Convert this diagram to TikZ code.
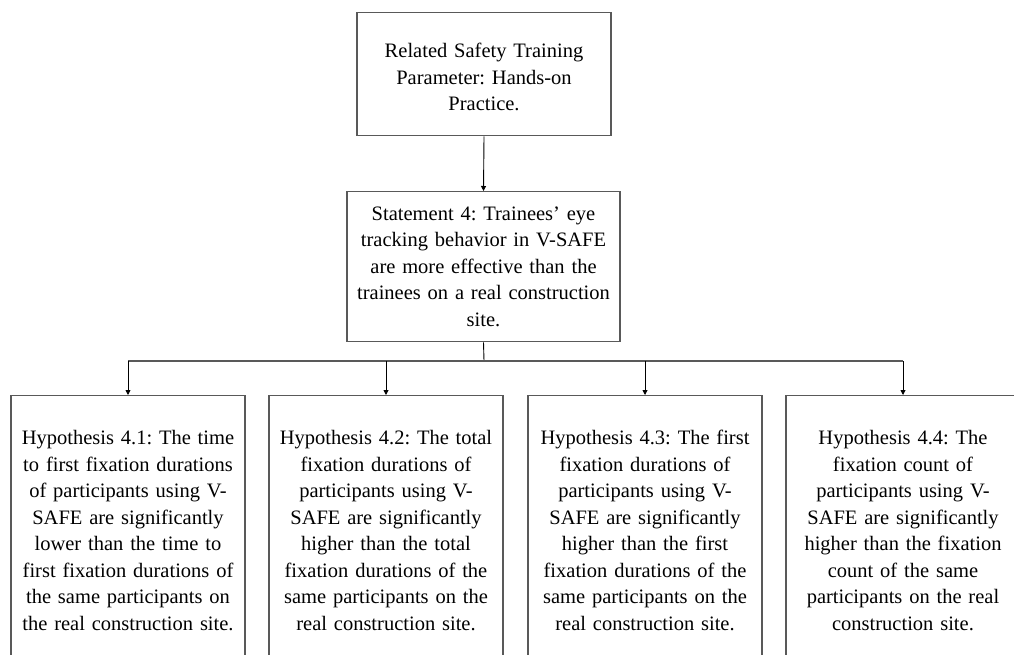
\documentclass[tikz,border=0pt]{standalone}
\usepackage{fontspec}
\setmainfont{Liberation Serif}
\usetikzlibrary{arrows.meta}
\frenchspacing
\begin{document}
\begin{tikzpicture}[x=1pt,y=-1pt,
  box/.style={draw=black!65, line width=1.3pt, rectangle, align=center, inner sep=0pt,
    font=\fontsize{20.5}{26.5}\selectfont},
  hyp/.style={box, minimum width=234pt, minimum height=270pt, text width=230pt, anchor=north},
  conn/.style={draw=black, line width=0.9pt},
  arr/.style={conn, -{Triangle[length=5pt,width=5pt]}}]
\useasboundingbox (0,0) rectangle (1014,655);
\clip (0,0) rectangle (1014,655);
\node[box, minimum width=254pt, minimum height=123pt, text width=250pt, anchor=north] (top) at (484,12)
  {\rule{0pt}{20pt}Related Safety Training\\Parameter: Hands-on\\Practice.};
\node[box, minimum width=273pt, minimum height=150pt, text width=268pt, anchor=north] (stmt) at (483.5,191)
  {Statement 4: Trainees' eye\\tracking behavior in V-SAFE\\are more effective than the\\trainees on a real construction\\site.};
\node[hyp] (h1) at (128,395)
  {Hypothesis 4.1: The time\\to first fixation durations\\of participants using V-\\SAFE are significantly\\lower than the time to\\first fixation durations of\\the same participants on\\the real construction site.};
\node[hyp] (h2) at (386,395)
  {Hypothesis 4.2: The total\\fixation durations of\\participants using V-\\SAFE are significantly\\higher than the total\\fixation durations of the\\same participants on the\\real construction site.};
\node[hyp] (h3) at (645,395)
  {Hypothesis 4.3: The first\\fixation durations of\\participants using V-\\SAFE are significantly\\higher than the first\\fixation durations of the\\same participants on the\\real construction site.};
\node[hyp] (h4) at (903,395)
  {Hypothesis 4.4: The\\fixation count of\\participants using V-\\SAFE are significantly\\higher than the fixation\\count of the same\\participants on the real\\construction site.};
\coordinate (bus) at (484,361);
\draw[arr] (top.south) -- (stmt.north);
\draw[conn] (stmt.south) -- (bus);
\draw[conn, draw=black!65, line width=1.3pt] (h1.north |- bus) -- (h4.north |- bus);
\foreach \h in {h1,h2,h3,h4}
  \draw[arr] (\h.north |- bus) -- (\h.north);
\end{tikzpicture}
\end{document}
